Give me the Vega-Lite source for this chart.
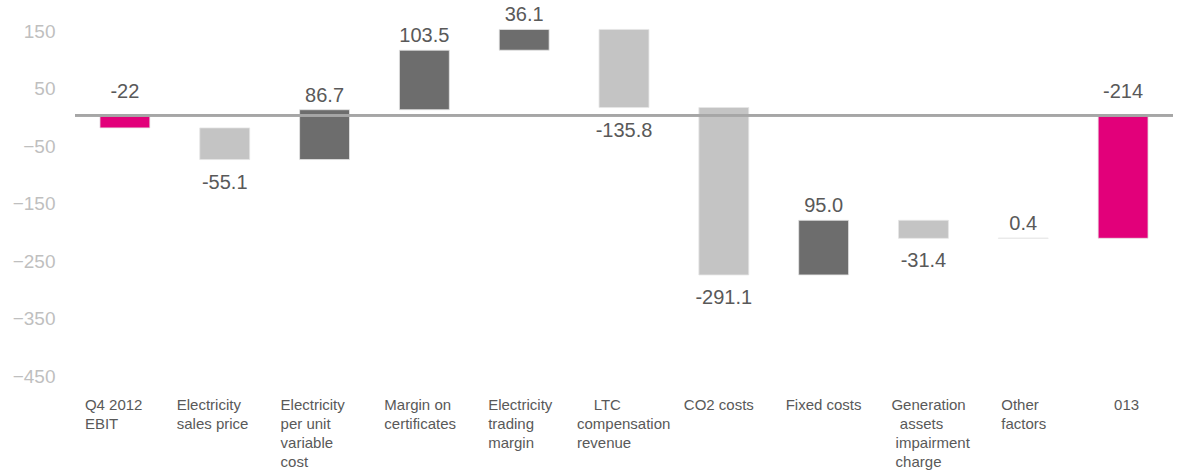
{
  "$schema": "https://vega.github.io/schema/vega-lite/v6.json",
  "width": 1098,
  "height": 345,
  "autosize": "none",
  "padding": {"left": 75, "top": 29, "right": 5, "bottom": 96},
  "background": "white",
  "config": {"view": {"stroke": null}, "font": "Liberation Sans"},
  "data": {
    "values": [
      {"step": "Q4 2012|EBIT", "lo": -22, "hi": 0, "type": "total", "label": "-22"},
      {"step": "Electricity|sales price", "lo": -77.1, "hi": -22, "type": "decrease", "label": "-55.1"},
      {"step": "Electricity|per unit|variable|cost", "lo": -77.1, "hi": 9.6, "type": "increase", "label": "86.7"},
      {"step": "Margin on|certificates", "lo": 9.6, "hi": 113.1, "type": "increase", "label": "103.5"},
      {"step": "Electricity|trading|margin", "lo": 113.1, "hi": 149.2, "type": "increase", "label": "36.1"},
      {"step": "\u200b\u00a0\u00a0\u00a0\u00a0LTC|compensation|revenue", "lo": 13.4, "hi": 149.2, "type": "decrease", "label": "-135.8"},
      {"step": "CO2 costs", "lo": -277.7, "hi": 13.4, "type": "decrease", "label": "-291.1"},
      {"step": "Fixed costs", "lo": -277.7, "hi": -182.7, "type": "increase", "label": "95.0"},
      {"step": "Generation|\u200b\u00a0\u00a0assets|\u200b\u00a0impairment|\u200b\u00a0charge", "lo": -214.1, "hi": -182.7, "type": "decrease", "label": "-31.4"},
      {"step": "Other|factors", "lo": -214.1, "hi": -213.7, "type": "increase", "label": "0.4"},
      {"step": "013", "lo": -214, "hi": 0, "type": "total", "label": "-214"}
    ]
  },
  "encoding": {
    "x": {
      "field": "step",
      "type": "nominal",
      "sort": null,
      "scale": {"paddingInner": 0.5, "paddingOuter": 0.25},
      "axis": {
        "title": null,
        "domain": false,
        "ticks": false,
        "labelAngle": 0,
        "labelAlign": "left",
        "labelExpr": "split(datum.label, '|')",
        "labelFontSize": 15,
        "labelLineHeight": 19,
        "labelColor": "#595959",
        "labelPadding": 23,
        "labelLimit": 0,
        "labelOffset": {
          "condition": [
            {"test": "datum.value === 'Electricity|sales price'", "value": -48},
            {"test": "datum.value === 'Electricity|per unit|variable|cost'", "value": -44},
            {"test": "datum.value === 'Electricity|trading|margin'", "value": -36},
            {"test": "indexof(datum.value, 'LTC') >= 0", "value": -47},
            {"test": "datum.value === 'CO2 costs'", "value": -40},
            {"test": "datum.value === 'Fixed costs'", "value": -38},
            {"test": "indexof(datum.value, 'Generation') >= 0", "value": -32},
            {"test": "datum.value === 'Other|factors'", "value": -22},
            {"test": "datum.value === '013'", "value": -9}
          ],
          "value": -40
        }
      }
    }
  },
  "layer": [
    {
      "mark": {"type": "bar", "stroke": "#E6E6E6", "strokeWidth": 0.8},
      "encoding": {
        "y": {
          "field": "lo",
          "type": "quantitative",
          "scale": {"domain": [-450, 150], "nice": false, "zero": false},
          "axis": {
            "title": null,
            "values": [150, 50, -50, -150, -250, -350, -450],
            "grid": false,
            "domain": false,
            "ticks": false,
            "labelFontSize": 19,
            "labelColor": "#BFBFBF",
            "labelPadding": 20,
            "labelOffset": 2
          }
        },
        "y2": {"field": "hi"},
        "color": {
          "field": "type",
          "type": "nominal",
          "scale": {"domain": ["total", "increase", "decrease"], "range": ["#E2007A", "#6D6D6D", "#C4C4C4"]},
          "legend": null
        }
      }
    },
    {
      "mark": {"type": "rule", "color": "#A6A6A6", "strokeWidth": 2},
      "encoding": {"y": {"datum": 0, "type": "quantitative"}, "x": {"value": 0}, "x2": {"value": 1098}}
    },
    {
      "transform": [{"filter": "datum.type === 'total'"}],
      "mark": {"type": "text", "fontSize": 20, "color": "#595959", "baseline": "alphabetic", "dy": -17},
      "encoding": {"y": {"field": "hi", "type": "quantitative"}, "text": {"field": "label"}}
    },
    {
      "transform": [{"filter": "datum.type === 'increase'"}],
      "mark": {"type": "text", "fontSize": 20, "color": "#595959", "baseline": "alphabetic", "dy": -8},
      "encoding": {"y": {"field": "hi", "type": "quantitative"}, "text": {"field": "label"}}
    },
    {
      "transform": [{"filter": "datum.type === 'decrease'"}],
      "mark": {"type": "text", "fontSize": 20, "color": "#595959", "baseline": "top", "dy": 13},
      "encoding": {"y": {"field": "lo", "type": "quantitative"}, "text": {"field": "label"}}
    }
  ]
}
